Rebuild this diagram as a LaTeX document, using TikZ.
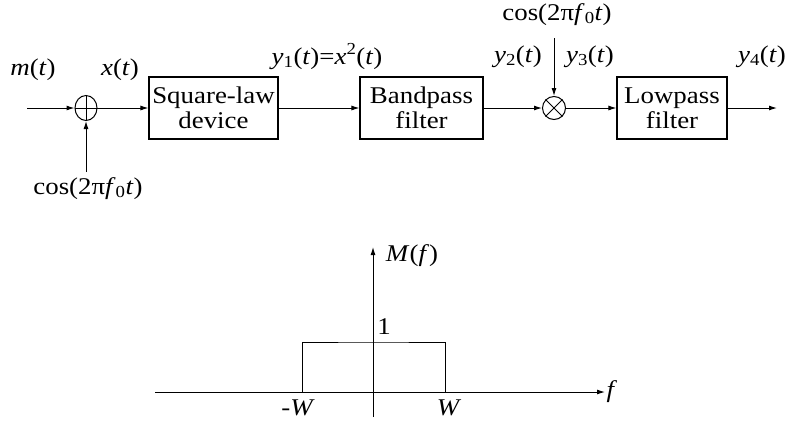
\documentclass[tikz,border=0pt]{standalone}
\usepackage{fontspec}
\setmainfont{Liberation Serif}[FakeStretch=1.12]
\usetikzlibrary{arrows.meta,positioning,shapes.geometric}
\newcommand\mvar[1]{\textit{#1}}
\newcommand\textpi{π}
\newcommand\cosarg{cos(2\textpi\mvar{f}\textsubscript{0}\mvar{t})}
\tikzset{
  blk/.style={draw, line width=1.1pt, align=center, minimum height=62pt,
              inner sep=2pt, font=\fontsize{24}{25}\selectfont},
  adder/.style={ellipse, draw, line width=1pt, minimum width=22pt,
                minimum height=25pt, inner sep=0pt},
  mixer/.style={circle, draw, line width=1pt, minimum size=23pt, inner sep=0pt},
  sig/.style={-{Latex[length=8pt,width=5pt]}, line width=1pt},
  wire/.style={line width=1pt},
  lab/.style={font=\fontsize{24}{25}\selectfont, inner sep=1pt},
}

\begin{document}
\begin{tikzpicture}[x=1pt,y=-1pt]
  \useasboundingbox (0,0) rectangle (787,424);
  % modulator chain
  \coordinate (in) at (27,108);
  \node[adder] (add) at (86,108) {};
  \node[blk, minimum width=129pt] (sq)  at (213.5,108) {Square-law\\device};
  \node[blk, minimum width=123pt] (bp)  at (421.5,108) {Bandpass\\filter};
  \node[mixer] (mul) at (554,108) {};
  \node[blk, minimum width=110pt] (lp)  at (672,108) {Lowpass\\filter};
  \coordinate (out) at (777,108);
  \coordinate (cb) at (86,172);
  \coordinate (ct) at (554,38);
  % signs inside the adder and mixer
  \draw[wire] (add.north) -- (add.south) (add.west) -- (add.east);
  \draw[wire] (mul.north west) -- (mul.south east) (mul.north east) -- (mul.south west);

  \draw[sig] (in) -- (add);
  \draw[sig] (cb) -- (add);
  \draw[sig] (add) -- (sq);
  \draw[sig] (sq) -- (bp);
  \draw[sig] (bp) -- (mul);
  \draw[sig] (ct) -- (mul);
  \draw[sig] (mul) -- (lp);
  \draw[sig] (lp) -- (out);

  % signal labels
  \node[lab, anchor=base] (lm)  at (33,75)  {\mvar{m}(\mvar{t})};
  \node[lab, anchor=base] (lx)  at (120,75) {\mvar{x}(\mvar{t})};
  \node[lab, anchor=base] (ly1) at (327,64) {\mvar{y}\textsubscript{1}(\mvar{t})=\mvar{x}\textsuperscript{2}(\mvar{t})};
  \node[lab, anchor=base] (ly2) at (518,62) {\mvar{y}\textsubscript{2}(\mvar{t})};
  \node[lab, anchor=base] (ly3) at (590,62) {\mvar{y}\textsubscript{3}(\mvar{t})};
  \node[lab, anchor=base] (ly4) at (762,62) {\mvar{y}\textsubscript{4}(\mvar{t})};
  \node[lab, anchor=base] (lct) at (557,20) {\cosarg};
  \node[lab, anchor=base] (lcb) at (88,194) {\cosarg};

  % spectrum M(f)
  \coordinate (fl) at (155,392);
  \coordinate (fr) at (605,392);
  \coordinate (mb) at (373,417);
  \coordinate (mt) at (373,247);
  \coordinate (wl) at (302,392);
  \coordinate (wr) at (445,392);
  \draw[sig] (fl) -- (fr);
  \draw[sig] (mb) -- (mt);
  \draw[wire] (wl) |- (373,342) -| (wr);
  \node[lab] (lf)  at (612,392) {\mvar{f}};
  \node[lab] (lM)  at (412,256) {\mvar{M}(\mvar{f})};
  \node[lab] (l1)  at (384,327) {1};
  \node[lab] (lwl) at (298,408) {-\mvar{W}};
  \node[lab] (lwr) at (449,408) {\mvar{W}};
\end{tikzpicture}
\end{document}
